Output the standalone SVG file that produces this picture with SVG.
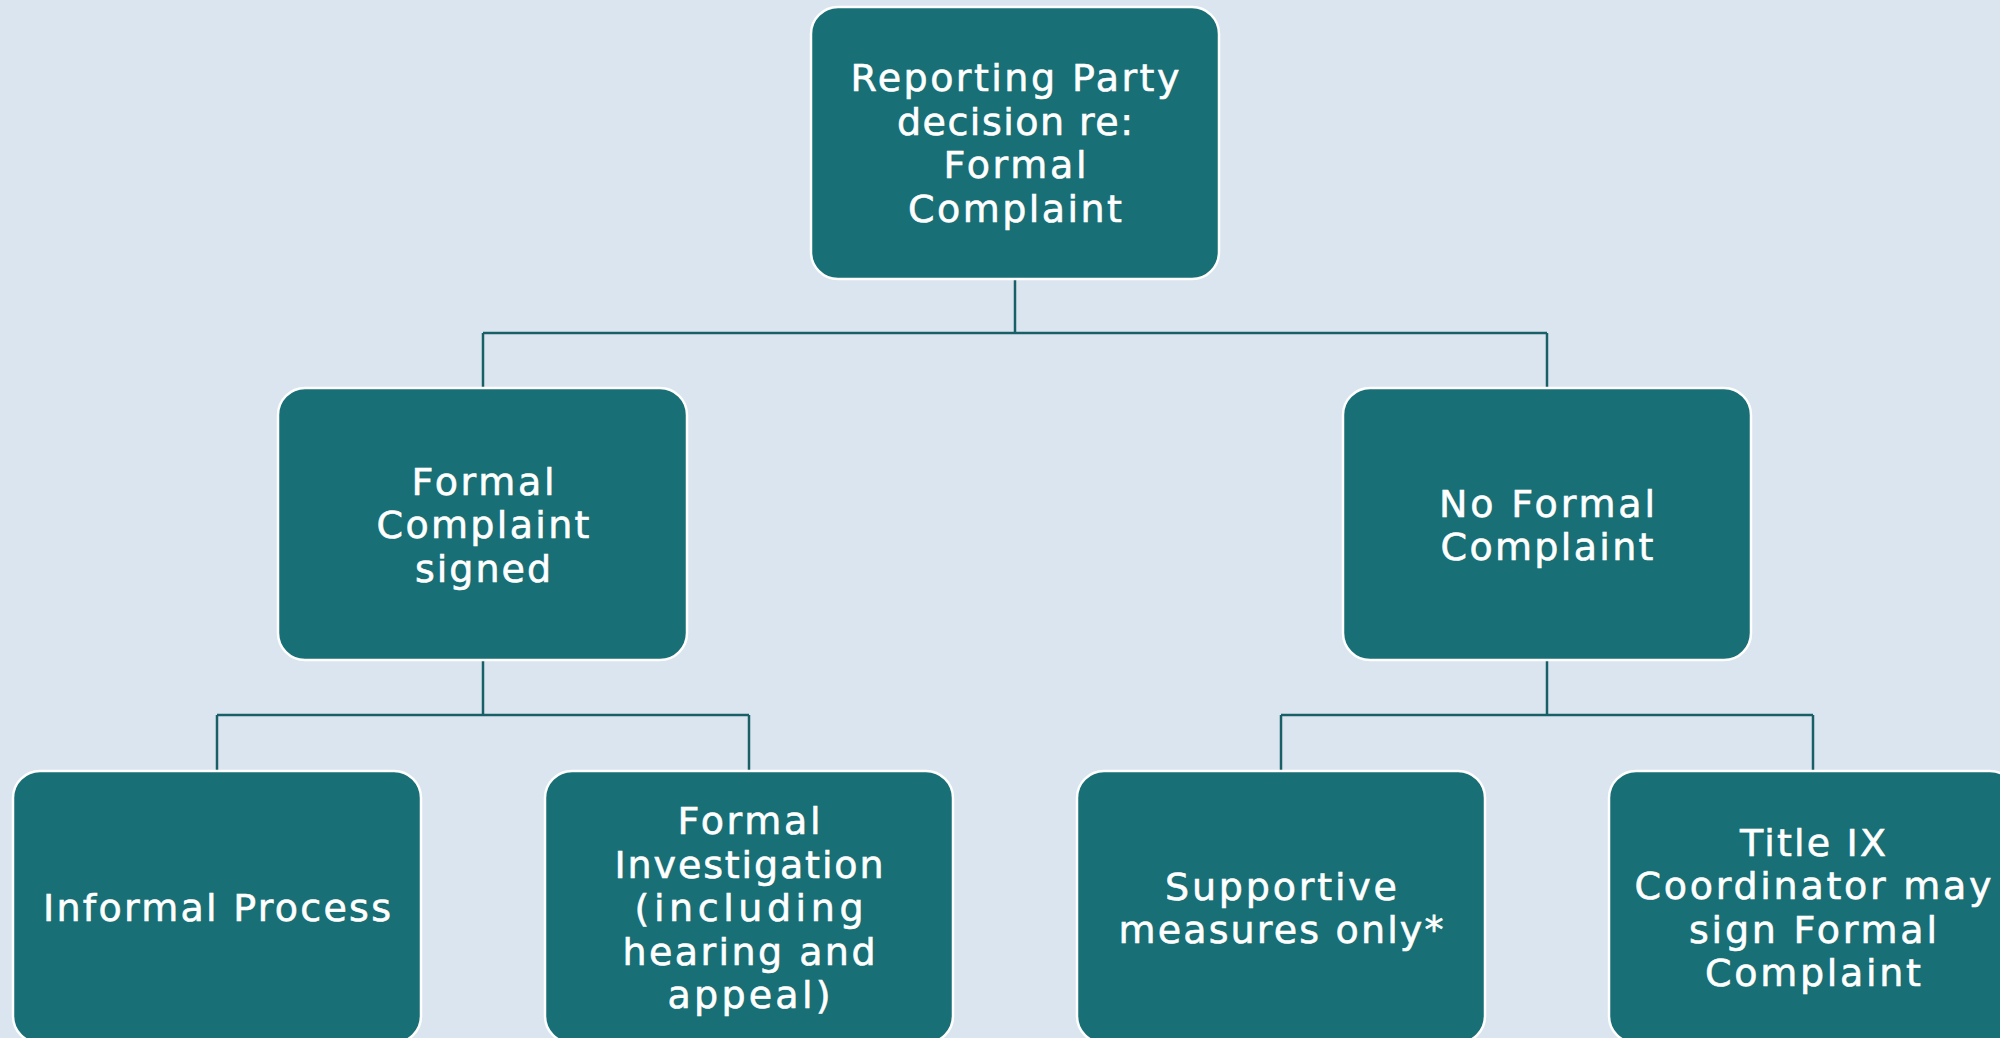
<svg xmlns="http://www.w3.org/2000/svg" width="2000" height="1038" viewBox="0 0 2000 1038">
<style>
.bg{fill:#DBE5EF}
.box{fill:#186F75;stroke:#FFFFFF;stroke-width:2.5}
.lbl{fill:#FFFFFF;stroke:#FFFFFF;stroke-width:0.6;font-family:"DejaVu Sans","Open Sans","Liberation Sans",sans-serif;font-size:38px;text-anchor:middle}
.conn{fill:none;stroke:#185F68;stroke-width:2.5}
</style>
<rect class="bg" x="0" y="0" width="2000" height="1038"/>
<g id="connectors">
<path class="conn" d="M1015 279V333M483 333H1547M483 333V388M1547 333V388"/>
<path class="conn" d="M483 660V715M217 715H749M217 715V771M749 715V771"/>
<path class="conn" d="M1547 660V715M1281 715H1813M1281 715V771M1813 715V771"/>
</g>
<g id="node-root">
<rect class="box" x="811" y="7" width="408" height="272" rx="27"/>
<text class="lbl" x="1015" y="91" textLength="329" lengthAdjust="spacing">Reporting Party</text>
<text class="lbl" x="1015" y="134.5" textLength="236" lengthAdjust="spacing">decision re:</text>
<text class="lbl" x="1015" y="178" textLength="143" lengthAdjust="spacing">Formal</text>
<text class="lbl" x="1015" y="221.5" textLength="214" lengthAdjust="spacing">Complaint</text>
</g>
<g id="node-signed">
<rect class="box" x="278" y="388" width="409" height="272" rx="27"/>
<text class="lbl" x="483" y="494.5" textLength="143" lengthAdjust="spacing">Formal</text>
<text class="lbl" x="483" y="538" textLength="213" lengthAdjust="spacing">Complaint</text>
<text class="lbl" x="483" y="581.5" textLength="136" lengthAdjust="spacing">signed</text>
</g>
<g id="node-noformal">
<rect class="box" x="1343" y="388" width="408" height="272" rx="27"/>
<text class="lbl" x="1547" y="516.5" textLength="216" lengthAdjust="spacing">No Formal</text>
<text class="lbl" x="1547" y="560" textLength="213" lengthAdjust="spacing">Complaint</text>
</g>
<g id="node-informal">
<rect class="box" x="13" y="771" width="408" height="272" rx="27"/>
<text class="lbl" x="217" y="921" textLength="348" lengthAdjust="spacing">Informal Process</text>
</g>
<g id="node-investigation">
<rect class="box" x="545" y="771" width="408" height="272" rx="27"/>
<text class="lbl" x="749" y="834" textLength="143" lengthAdjust="spacing">Formal</text>
<text class="lbl" x="749" y="877.5" textLength="269" lengthAdjust="spacing">Investigation</text>
<text class="lbl" x="749" y="921" textLength="229" lengthAdjust="spacing">(including</text>
<text class="lbl" x="749" y="964.5" textLength="253" lengthAdjust="spacing">hearing and</text>
<text class="lbl" x="749" y="1008" textLength="163" lengthAdjust="spacing">appeal)</text>
</g>
<g id="node-supportive">
<rect class="box" x="1077" y="771" width="408" height="272" rx="27"/>
<text class="lbl" x="1281" y="899.5" textLength="232" lengthAdjust="spacing">Supportive</text>
<text class="lbl" x="1281" y="943" textLength="325" lengthAdjust="spacing">measures only*</text>
</g>
<g id="node-titleix">
<rect class="box" x="1609" y="771" width="408" height="272" rx="27"/>
<text class="lbl" x="1813" y="855.5" textLength="146" lengthAdjust="spacing">Title IX</text>
<text class="lbl" x="1813" y="899" textLength="357" lengthAdjust="spacing">Coordinator may</text>
<text class="lbl" x="1813" y="942.5" textLength="248" lengthAdjust="spacing">sign Formal</text>
<text class="lbl" x="1813" y="986" textLength="216" lengthAdjust="spacing">Complaint</text>
</g>
</svg>
